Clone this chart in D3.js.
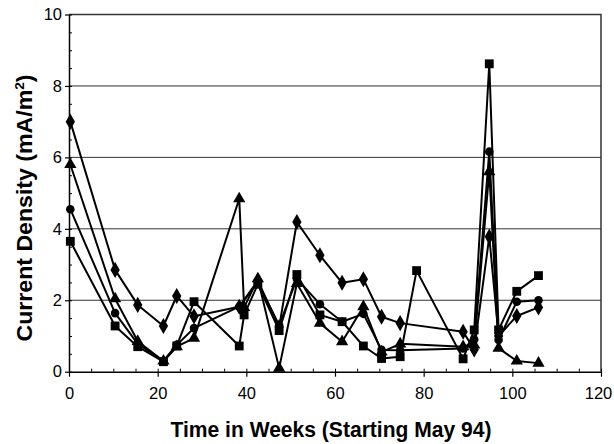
<!DOCTYPE html>
<html>
<head>
<meta charset="utf-8">
<script src="https://cdn.jsdelivr.net/npm/d3@7"></script>
<style>
  body { margin: 0; background: #fff; }
  svg { display: block; }
  text { font-family: "Liberation Sans", Arial, sans-serif; fill: #000; }
</style>
</head>
<body>
<div id="chart"></div>
<script>
// sample times (weeks) shared by all series, null = no reading
const weeks = [0.3, 10.4, 15.5, 21.3, 24.3, 28.2, 38.4, 39.5, 42.6, 47.4, 51.4, 56.6, 61.6, 66.4, 70.5, 74.7, 78.4, 88.9, 91.4, 94.8, 96.9, 101, 105.9];

const diamondValues  = [7.0, 2.85, 1.87, 1.28, 2.12, 1.55, 1.82, null, 2.55, 1.25, 4.19, 3.26, 2.49, 2.59, 1.54, 1.36, null, 1.12, 0.62, 3.78, 1.0, 1.56, 1.8];
const squareValues   = [3.65, 1.28, 0.7, 0.28, 0.72, 1.96, 0.72, 1.59, 2.45, 1.15, 2.72, 1.59, 1.4, 0.72, 0.37, 0.42, 2.83, 0.36, 1.17, 8.62, 1.17, 2.25, 2.69];
const triangleValues = [5.8, 2.04, 0.85, 0.3, 0.7, 0.94, 4.84, 1.8, 2.6, 0.1, 2.47, 1.36, 0.84, 1.82, 0.55, 0.78, null, 0.7, 0.75, 5.6, 0.66, 0.3, 0.24];
const circleValues   = [4.55, 1.64, 0.78, 0.3, 0.75, 1.22, 1.82, null, 2.5, 1.3, 2.6, 1.89, 1.4, 1.62, 0.61, 0.6, null, 0.65, 0.9, 6.16, 0.89, 1.96, 2.0];

const xTicks = [0, 20, 40, 60, 80, 100, 120];
const yTicks = [0, 2, 4, 6, 8, 10];

const w = 614, h = 444;
const plotLeft = 69, plotRight = 601, plotTop = 14.5, plotBottom = 371.7;

const svg = d3.select("#chart").append("svg").attr("width", w).attr("height", h);

const x = d3.scaleLinear().domain([0, 120]).range([plotLeft, plotRight]);
const y = d3.scaleLinear().domain([0, 10]).range([plotBottom, plotTop]);

// gridlines
svg.append("g").selectAll("line")
    .data(yTicks.filter(d => d > 0 && d < 10))
    .enter().append("line")
    .attr("x1", plotLeft).attr("x2", plotRight)
    .attr("y1", d => y(d)).attr("y2", d => y(d))
    .attr("stroke", "#333").attr("stroke-width", 1);

// top and right border
svg.append("path")
    .attr("d", `M${plotLeft},${y(10)}H${plotRight}V${plotBottom}`)
    .attr("fill", "none").attr("stroke", "#333").attr("stroke-width", 1.5);

// minor ticks (inside)
svg.append("g").attr("transform", `translate(${plotLeft},0)`)
    .call(d3.axisLeft(y).tickValues(d3.range(0, 10.01, 0.5)).tickSize(-3).tickFormat(""))
    .call(g => g.select(".domain").remove());
svg.append("g").attr("transform", `translate(0,${plotBottom})`)
    .call(d3.axisBottom(x).tickValues(d3.range(0, 120.01, 5)).tickSize(-3).tickFormat(""))
    .call(g => g.select(".domain").remove());

// main axes
const yAxis = svg.append("g").attr("transform", `translate(${plotLeft},0)`)
    .call(d3.axisLeft(y).tickValues(yTicks).tickSizeInner(4).tickSizeOuter(0).tickPadding(3).tickFormat(d3.format("d")));
const xAxis = svg.append("g").attr("transform", `translate(0,${plotBottom})`)
    .call(d3.axisBottom(x).tickValues(xTicks).tickSizeInner(5).tickSizeOuter(0).tickPadding(11).tickFormat(d3.format("d")));

[xAxis, yAxis].forEach(g => {
    g.select(".domain").attr("stroke", "#000").attr("stroke-width", 1.5);
    g.selectAll(".tick line").attr("stroke", "#000").attr("stroke-width", 1.2);
    g.selectAll(".tick text").style("font-size", "16.5px").style("font-family", "Liberation Sans, Arial, sans-serif");
});
// last label sits a little left so it stays on the page
xAxis.selectAll(".tick text").filter(d => d === 120).attr("dx", "-3");

// axis titles
svg.append("text")
    .attr("transform", `translate(32,208) rotate(-90)`)
    .attr("text-anchor", "middle")
    .attr("textLength", 267).attr("lengthAdjust", "spacingAndGlyphs")
    .style("font-size", "22px").style("font-weight", "bold")
    .html('Current Density (mA/m<tspan dy="-8" font-size="13px">2</tspan><tspan dy="8">)</tspan>');

svg.append("text")
    .attr("x", 331).attr("y", 437)
    .attr("text-anchor", "middle")
    .attr("textLength", 321).attr("lengthAdjust", "spacingAndGlyphs")
    .style("font-size", "22px").style("font-weight", "bold")
    .text("Time in Weeks (Starting May 94)");

// series
const series = [
    { name: "diamond", values: diamondValues, symbol: d3.symbolDiamond, size: 75 },
    { name: "square", values: squareValues, symbol: d3.symbolSquare, size: 78 },
    { name: "triangle", values: triangleValues, symbol: d3.symbolTriangle, size: 65 },
    { name: "circle", values: circleValues, symbol: d3.symbolCircle, size: 58 }
];

const line = d3.line().x(d => x(d[0])).y(d => y(d[1]));

series.forEach(s => {
    const pts = weeks.map((wk, i) => [wk, s.values[i]]).filter(p => p[1] !== null);
    const g = svg.append("g").attr("class", "series-" + s.name);
    g.append("path")
        .datum(pts)
        .attr("d", line)
        .attr("fill", "none")
        .attr("stroke", "#000")
        .attr("stroke-width", 2)
        .attr("stroke-linejoin", "round");
    g.selectAll("path.mark")
        .data(pts)
        .enter().append("path")
        .attr("class", "mark")
        .attr("transform", d => `translate(${x(d[0])},${y(d[1])})`)
        .attr("d", d3.symbol().type(s.symbol).size(s.size))
        .attr("fill", "#000");
});
</script>
</body>
</html>
